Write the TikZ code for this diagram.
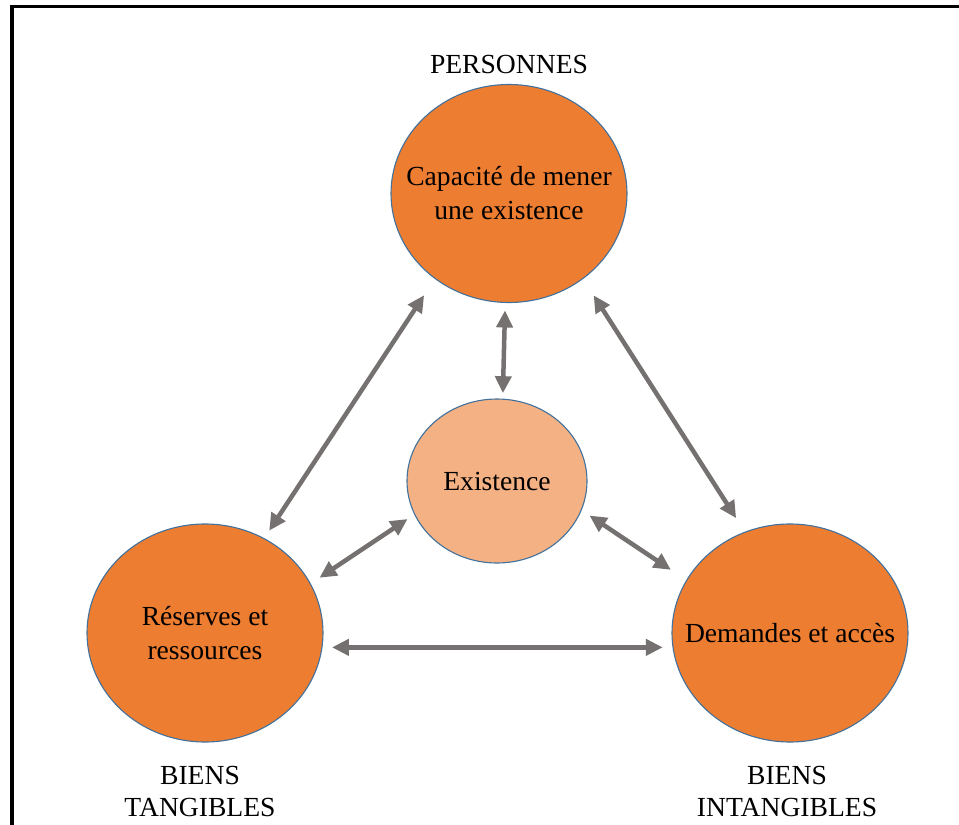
\documentclass[tikz,border=0pt]{standalone}
\usepackage{fontspec}
\setmainfont{Liberation Serif}
\usetikzlibrary{shapes.geometric,arrows.meta}
\definecolor{orangeA}{HTML}{ED7D31}
\definecolor{orangeL}{HTML}{F4B183}
\definecolor{edgeblue}{HTML}{41719C}
\definecolor{arrgray}{HTML}{767171}
\tikzset{
  txt/.style={align=center,inner sep=0pt,font=\fontsize{27.6}{34}\selectfont},
  bigcirc/.style={ellipse,draw=edgeblue,line width=1.1pt,fill=orangeA,inner sep=0pt,outer sep=0pt,
    minimum width=236pt,minimum height=218pt},
  midcirc/.style={ellipse,draw=edgeblue,line width=1.1pt,fill=orangeL,inner sep=0pt,outer sep=0pt,
    minimum width=180pt,minimum height=164pt},
  lbl/.style={align=center,inner sep=0pt,font=\fontsize{27.6}{32}\selectfont},
  arr/.style={draw=arrgray,line width=4.5pt,{Triangle[length=17pt,width=16pt]}-{Triangle[length=17pt,width=16pt]}}
}
\begin{document}
\begin{tikzpicture}[x=1pt,y=-1pt]
\useasboundingbox (0,0) rectangle (959,825);
\fill[white] (0,0) rectangle (959,825);
\draw[line width=3.5pt] (12,825) -- (12,6.5) -- (959,6.5);
\node[bigcirc,label={[txt]center:Capacité de mener\\une existence}] (T) at (509,193.5) {};
\node[midcirc,label={[txt]center:Existence}] (E) at (497,481) {};
\node[bigcirc,label={[txt]center:Réserves et\\ressources}] (BL) at (205,633) {};
\node[bigcirc,label={[txt]center:Demandes et accès}] (BR) at (790,633) {};
\node[lbl] (P) at (509,64) {PERSONNES};
\node[lbl] (BT) at (200,791) {BIENS\\TANGIBLES};
\node[lbl] (BI) at (787,791) {BIENS\\INTANGIBLES};
\draw[arr,shorten <=20pt,shorten >=9.5pt] (T.229) -- (BL.58.5);
\draw[arr,shorten <=8pt,shorten >=6pt] (T.268.5) -- (E.86.7);
\draw[arr,shorten <=20pt,shorten >=16.7pt] (T.311.2) -- (BR.114.1);
\draw[arr,shorten <=10pt,shorten >=19pt] (E.341.2) -- (BR.153.6);
\draw[arr,shorten <=8.6pt,shorten >=11pt] (E.202.4) -- (BL.25.6);
\draw[arr,shorten <=10pt,shorten >=10pt] (BL.353.7) -- (BL.353.7 -| BR.186.3);
\end{tikzpicture}
\end{document}
